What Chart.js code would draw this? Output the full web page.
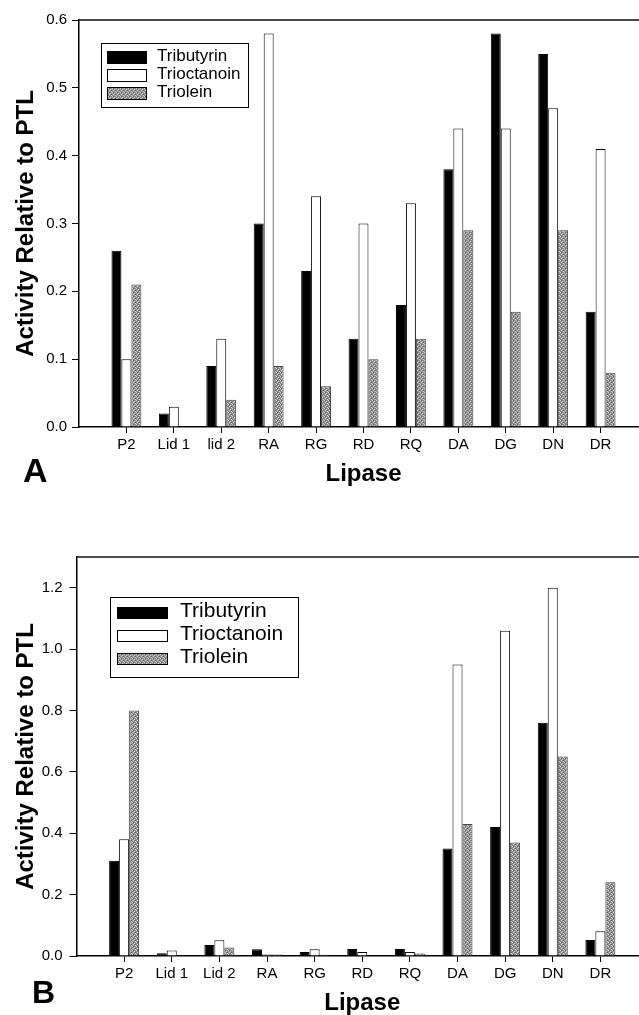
<!DOCTYPE html>
<html lang="en">
<head>
<meta charset="UTF-8">
<title>Lipase activity relative to PTL</title>
<script src="https://cdn.jsdelivr.net/npm/chart.js"></script>
<style>
    html, body { margin: 0; padding: 0; background: #fff; overflow: hidden; width: 639px; height: 1015px; }
    .panel { position: absolute; left: 0; }
    .tag { position: absolute; font-family: "Liberation Sans", Arial, sans-serif; font-weight: bold; color: #000; }
</style>
</head>
<body>
<div class="panel" style="top:0"><canvas id="chartA" width="700" height="500"></canvas></div>
<div class="panel" style="top:530px"><canvas id="chartB" width="700" height="500"></canvas></div>
<div class="tag" style="left:23px;top:453px;font-size:34px;line-height:34px">A</div>
<div class="tag" style="left:32px;top:976px;font-size:32px;line-height:32px">B</div>

<script>
    // lipase names on the x axis (panel A writes "lid 2" in lower case)
    const lipasesA = ['P2', 'Lid 1', 'lid 2', 'RA', 'RG', 'RD', 'RQ', 'DA', 'DG', 'DN', 'DR'];
    const lipasesB = ['P2', 'Lid 1', 'Lid 2', 'RA', 'RG', 'RD', 'RQ', 'DA', 'DG', 'DN', 'DR'];
    const seriesNames = ['Tributyrin', 'Trioctanoin', 'Triolein'];

    // panel A
    const tributyrinA  = [0.26, 0.02, 0.09, 0.30, 0.23, 0.13, 0.18, 0.38, 0.58, 0.55, 0.17];
    const trioctanoinA = [0.10, 0.03, 0.13, 0.58, 0.34, 0.30, 0.33, 0.44, 0.44, 0.47, 0.41];
    const trioleinA    = [0.21, 0,    0.04, 0.09, 0.06, 0.10, 0.13, 0.29, 0.17, 0.29, 0.08];
    const yTicksA = [0, 0.1, 0.2, 0.3, 0.4, 0.5, 0.6];

    // panel B
    const tributyrinB  = [0.31, 0.009, 0.036, 0.022, 0.013, 0.023, 0.023, 0.35, 0.42, 0.76, 0.052];
    const trioctanoinB = [0.38, 0.018, 0.051, 0.005, 0.022, 0.013, 0.013, 0.95, 1.06, 1.20, 0.081];
    const trioleinB    = [0.80, 0,     0.028, 0.005, 0.004, 0,     0.008, 0.43, 0.37, 0.65, 0.24];
    const yTicksB = [0, 0.2, 0.4, 0.6, 0.8, 1.0, 1.2];

    const FONT = '"Liberation Sans", Arial, sans-serif';

    // grey stippled fill like the scanned triolein bars
    function stipple(ctx) {
        const c = document.createElement('canvas');
        c.width = 4; c.height = 4;
        const p = c.getContext('2d');
        p.fillStyle = '#8c8c8c'; p.fillRect(0, 0, 4, 4);
        p.fillStyle = '#d4d4d4';
        [[0, 0], [2, 1], [1, 2], [3, 3]].forEach(([x, y]) => p.fillRect(x, y, 1, 1));
        p.fillStyle = '#5a5a5a';
        [[1, 0], [3, 2]].forEach(([x, y]) => p.fillRect(x, y, 1, 1));
        return ctx.createPattern(c, 'repeat');
    }

    // legend inside a framed box
    const boxLegend = {
        id: 'boxLegend',
        afterDraw(chart, args, o) {
            const ctx = chart.ctx;
            ctx.save();
            ctx.lineWidth = 1;
            ctx.strokeStyle = '#000';
            ctx.strokeRect(o.x + 0.5, o.y + 0.5, o.w, o.h);
            ctx.font = o.size + 'px ' + FONT;
            ctx.textBaseline = 'middle';
            chart.data.datasets.forEach((ds, i) => {
                const cy = o.rowY + i * o.rowGap;
                ctx.fillStyle = ds.backgroundColor;
                ctx.fillRect(o.swX, cy - o.swH / 2, o.swW, o.swH);
                ctx.strokeRect(o.swX + 0.5, cy - o.swH / 2 + 0.5, o.swW, o.swH);
                ctx.fillStyle = '#000';
                ctx.fillText(ds.label, o.textX, cy - 1);
            });
            ctx.restore();
        }
    };

    // top frame line, running off the right edge
    const topLine = {
        id: 'topLine',
        afterDraw(chart) {
            const { ctx, chartArea } = chart;
            ctx.save();
            ctx.strokeStyle = '#111';
            ctx.lineWidth = 1.5;
            ctx.beginPath();
            ctx.moveTo(chartArea.left, chartArea.top);
            ctx.lineTo(chart.width, chartArea.top);
            ctx.stroke();
            ctx.restore();
        }
    };

    function makeChart(id, names, tri, oct, ole, yTicks, yMax, layout, yWidth, yPad, legend) {
        const canvas = document.getElementById(id);
        const ctx = canvas.getContext('2d');
        const toPts = arr => arr.map((v, i) => ({ x: i, y: v }));
        return new Chart(ctx, {
            type: 'bar',
            data: {
                datasets: [
                    { label: seriesNames[0], data: toPts(tri), backgroundColor: '#000', borderColor: '#000', borderWidth: 1 },
                    { label: seriesNames[1], data: toPts(oct), backgroundColor: '#fff', borderColor: '#000', borderWidth: 1 },
                    { label: seriesNames[2], data: toPts(ole), backgroundColor: stipple(ctx), borderColor: '#444', borderWidth: 1 }
                ]
            },
            options: {
                responsive: false,
                animation: false,
                events: [],
                categoryPercentage: 0.63,
                barPercentage: 1,
                layout: { padding: layout },
                plugins: {
                    legend: { display: false },
                    tooltip: { enabled: false },
                    boxLegend: legend
                },
                scales: {
                    x: {
                        type: 'linear',
                        min: -1,
                        max: 11,
                        offset: false,
                        afterBuildTicks: s => { s.ticks = names.map((n, i) => ({ value: i })); },
                        afterFit: s => { s.height = 66; },
                        ticks: {
                            autoSkip: false,
                            maxRotation: 0,
                            padding: 3,
                            color: '#000',
                            font: { family: FONT, size: 15 },
                            callback: v => names[v]
                        },
                        grid: { offset: false, drawOnChartArea: false, drawTicks: true, tickLength: 6, color: '#000' },
                        border: { display: true, color: '#000', width: 1.5 },
                        title: {
                            display: true,
                            text: 'Lipase',
                            color: '#000',
                            font: { family: FONT, size: 24, weight: 'bold' },
                            padding: { top: 0, bottom: 4 }
                        }
                    },
                    y: {
                        min: 0,
                        max: yMax,
                        afterBuildTicks: s => { s.ticks = yTicks.map(v => ({ value: v })); },
                        afterFit: s => { s.width = yWidth; },
                        ticks: {
                            padding: yPad,
                            color: '#000',
                            font: { family: FONT, size: 15 },
                            callback: v => v.toFixed(1)
                        },
                        grid: { drawOnChartArea: false, drawTicks: true, tickLength: 7, color: '#000' },
                        border: { display: true, color: '#000', width: 1.5 },
                        title: {
                            display: true,
                            text: 'Activity Relative to PTL',
                            color: '#000',
                            font: { family: FONT, size: 24, weight: 'bold' },
                            padding: { top: 8, bottom: 0 }
                        }
                    }
                }
            },
            plugins: [boxLegend, topLine]
        });
    }

    makeChart('chartA', lipasesA, tributyrinA, trioctanoinA, trioleinA, yTicksA, 0.6,
        { left: 4, top: 20, right: 52, bottom: 7 }, 75, 5,
        { x: 101, y: 43, w: 147, h: 64, swX: 107, swW: 39, swH: 12, rowY: 57, rowGap: 18, textX: 157, size: 17 });

    makeChart('chartB', lipasesB, tributyrinB, trioctanoinB, trioleinB, yTicksB, 1.3,
        { left: 4, top: 27, right: 52, bottom: 8 }, 72.5, 7,
        { x: 110, y: 67, w: 188, h: 80, swX: 117, swW: 50, swH: 11, rowY: 82.5, rowGap: 23, textX: 180, size: 21 });
</script>
</body>
</html>
